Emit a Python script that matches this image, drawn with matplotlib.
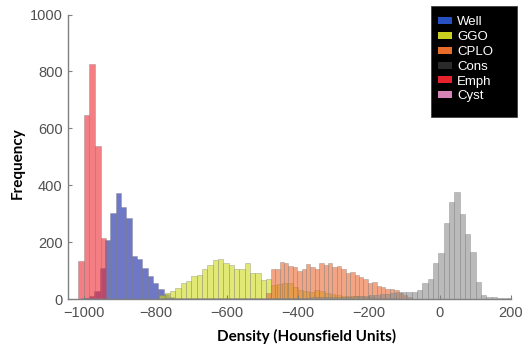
import numpy as np
import matplotlib
matplotlib.use("Agg")
import matplotlib.pyplot as plt
from matplotlib.patches import Rectangle

# histogram counts per class (bin start in HU, bin width in HU)
well_start, well_width = -1002, 15
well_counts = [5, 10, 28, 110, 207, 303, 371, 322, 286, 151, 140, 110, 81, 57, 35, 17, 7]

ggo_start, ggo_width = -789, 15
ggo_counts = [14, 20, 28, 40, 55, 64, 81, 84, 104, 119, 137, 140, 128, 121, 107, 107,
              127, 92, 92, 67, 72,
              50, 53, 57, 58, 42, 33, 27, 26, 31, 28, 21, 19, 14, 12, 10, 10, 9, 7,
              6, 5, 4, 3, 3, 2]

cplo_start, cplo_width = -488, 12.4
cplo_counts = [20, 104, 107, 131, 125, 116, 113, 99, 107, 123, 113, 107, 125, 121, 125,
               113, 116, 104, 90, 96, 84, 76, 72, 57, 61, 45, 43, 36, 34, 30, 22, 14, 8]

cons_start, cons_width = -799, 15
cons_counts = [1, 2, 2, 3, 3, 4, 4, 5, 5, 5, 5, 5, 4, 4, 4, 4, 4, 4, 4, 4,
               4, 4, 4, 4, 5, 5, 5, 5, 5, 6, 6, 6, 6, 7, 7, 8, 8, 9, 10, 11,
               13, 15, 17, 19, 21, 23, 24, 25,
               26, 31, 57, 69, 125, 163, 267, 341, 376, 300, 230, 166, 61, 14, 8, 6, 5, 5, 4]

emph_start, emph_width = -1018, 16
emph_counts = [134, 648, 826, 539, 214]

cyst_start, cyst_width = -1010, 15
cyst_counts = [2, 4, 3, 2]

labels = ["Well", "GGO", "CPLO", "Cons", "Emph", "Cyst"]
legend_colors = ["#2750c0", "#c8cf1e", "#e86d2a", "#2a2a2a", "#e8222a", "#d585b8"]

series = [
    (well_start, well_width, well_counts, "#0d1ea0"),
    (ggo_start, ggo_width, ggo_counts, "#cfd917"),
    (cplo_start, cplo_width, cplo_counts, "#ec6a30"),
    (cons_start, cons_width, cons_counts, "#8c8c8c"),
    (emph_start, emph_width, emph_counts, "#ec2a32"),
    (cyst_start, cyst_width, cyst_counts, "#c060a0"),
]

W, H = 527, 346
fig = plt.figure(figsize=(W / 100, H / 100), dpi=100)
ax = fig.add_axes([0.1296, 0.1358, 0.8400, 0.8222])

for start, width, counts, color in series:
    edges = start + width * np.arange(len(counts))
    ax.bar(edges, counts, width=width, align="edge", color=color, alpha=0.6,
           edgecolor="#7a7a7a", linewidth=0.4)

ax.set_xlim(-1045, 200)
ax.set_ylim(0, 1000)
ax.set_xticks(np.arange(-1000, 201, 200))
ax.set_yticks(np.arange(0, 1001, 200))
for s in ["top", "right"]:
    ax.spines[s].set_visible(False)
for s in ["left", "bottom"]:
    ax.spines[s].set_color("#808080")
    ax.spines[s].set_linewidth(1.0)
ax.tick_params(direction="in", length=3, color="#808080", labelcolor="#505050",
               labelsize=10.5)
ax.tick_params(axis="x", pad=5)
ax.tick_params(axis="y", pad=4)
for t in ax.get_xticklabels() + ax.get_yticklabels():
    t.set_family("Liberation Sans")

fig.text(306.5 / W, 1 - 336.7 / H, "Density (Hounsfield Units)", ha="center",
         va="center", fontsize=11, fontweight="bold", family="Lato")
fig.text(18 / W, 1 - 163.5 / H, "Frequency", ha="center", va="center",
         rotation=90, fontsize=11, fontweight="bold", family="Lato")

# legend drawn by hand: black box, swatch + white label per row
fig.patches.append(Rectangle((431 / W, 1 - 117 / H), 86 / W, 111 / H,
                             transform=fig.transFigure, facecolor="black",
                             edgecolor="#404040", linewidth=0.6))
for i, (lab, c) in enumerate(zip(labels, legend_colors)):
    y = 20.7 + 14.8 * i
    fig.patches.append(Rectangle((437.7 / W, 1 - (y + 3.5) / H), 14 / W, 7 / H,
                                 transform=fig.transFigure, facecolor=c,
                                 edgecolor="none"))
    fig.text(457 / W, 1 - (y + 4.6) / H, lab, color="white", fontsize=9.5,
             family="Liberation Sans", va="baseline", ha="left")

fig.savefig("out.png", dpi=100)
